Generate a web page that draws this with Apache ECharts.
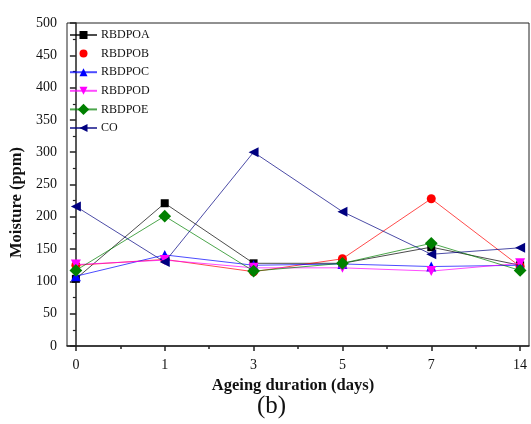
<!DOCTYPE html>
<html><head><meta charset="utf-8">
<script src="https://cdn.jsdelivr.net/npm/echarts@6/dist/echarts.min.js"></script>
<style>html,body{margin:0;padding:0;background:#fff}#c{width:531px;height:424px}</style>
</head><body><div id="c"></div>
<script>
const categories = ['0','1','3','5','7','14'];
const seriesNames = ['RBDPOA','RBDPOB','RBDPOC','RBDPOD','RBDPOE','CO'];
const RBDPOA = [104, 221, 128, 128, 153, 125];
const RBDPOB = [125, 134, 115, 135, 228, 123];
const RBDPOC = [108, 141, 125, 127, 123, 125];
const RBDPOD = [126, 133, 121, 121, 116, 128];
const RBDPOE = [117, 201, 116, 128, 159, 117];
const CO     = [216, 130, 300, 208, 142, 152];
const yTicks = [0,50,100,150,200,250,300,350,400,450,500];

const values = [RBDPOA, RBDPOB, RBDPOC, RBDPOD, RBDPOE, CO];
const colors = ['#000000','#ff0000','#0000ff','#ff00ff','#008000','#000080'];
const symbols = ['rect','circle','triangle','triangle','rect','triangle'];
const rotates = [0,0,0,180,45,90];
const sizes = [8,9,10,10,9,10];
const FONT = '"Liberation Serif","Times New Roman",serif';

const series = values.map((arr, k) => ({
  name: seriesNames[k],
  type: 'line',
  data: arr.map((v, i) => [i, v]),
  symbol: symbols[k],
  symbolRotate: rotates[k],
  symbolSize: sizes[k],
  showAllSymbol: true,
  lineStyle: {color: colors[k], width: 1, opacity: 0.7},
  itemStyle: {color: colors[k], opacity: 1},
  z: 2 + k
}));

const chart = echarts.init(document.getElementById('c'));
chart.setOption({
  animation: false,
  backgroundColor: '#fff',
  textStyle: {fontFamily: FONT},
  grid: {left: 67, top: 23, width: 462, height: 323, show: true, borderColor: '#222', borderWidth: 1, backgroundColor: 'transparent'},
  legend: {
    orient: 'vertical', left: 69, top: 28, padding: 0,
    itemWidth: 27, itemHeight: 10, itemGap: 4.6,
    textStyle: {fontFamily: FONT, fontSize: 12, lineHeight: 14, color: '#111', padding: [0,0,0,-1]},
    data: seriesNames.map((n, k) => k === 1 ? {name: n, lineStyle: {opacity: 0}} : {name: n})
  },
  xAxis: [{
    type: 'value', min: -0.1, max: 5.1,
    axisLine: {show: true, lineStyle: {color: '#222', width: 1.5}},
    axisTick: {show: true, customValues: [0,1,2,3,4,5], length: 5, inside: false, lineStyle: {color: '#222', width: 1.5}},
    minorTick: {show: false},
    axisLabel: {customValues: [0,1,2,3,4,5], formatter: v => categories[Math.round(v)] ?? '', fontFamily: FONT, fontSize: 14, color: '#111', margin: 12},
    splitLine: {show: false},
    name: 'Ageing duration (days)', nameLocation: 'middle', nameGap: 24,
    nameTextStyle: {fontFamily: FONT, fontSize: 16.5, fontWeight: 'bold', color: '#111', padding: [0,10,0,0]}
  },{
    type: 'value', min: -0.1, max: 5.1, position: 'bottom',
    axisLine: {show: false},
    axisTick: {show: true, customValues: [0.5,1.5,2.5,3.5,4.5], length: 3, lineStyle: {color: '#222', width: 1.5}},
    axisLabel: {show: false}, splitLine: {show: false}
  }],
  yAxis: {
    type: 'value', min: 0, max: 500, interval: 50,
    axisLine: {show: true, lineStyle: {color: '#222', width: 1.5}},
    axisTick: {show: true, length: 6, lineStyle: {color: '#222', width: 1.5}},
    minorTick: {show: true, splitNumber: 2, length: 3, lineStyle: {color: '#222', width: 1.2}},
    axisLabel: {fontFamily: FONT, fontSize: 14, color: '#111', margin: 10, customValues: yTicks},
    splitLine: {show: false},
    name: 'Moisture (ppm)', nameLocation: 'middle', nameGap: 35,
    nameTextStyle: {fontFamily: FONT, fontSize: 16.5, fontWeight: 'bold', color: '#111', padding: [0,36,0,0]}
  },
  graphic: [{type: 'text', left: 257, top: 394, style: {text: '(b)', font: '25px ' + FONT, fill: '#111'}}],
  series: series
});
</script></body></html>
